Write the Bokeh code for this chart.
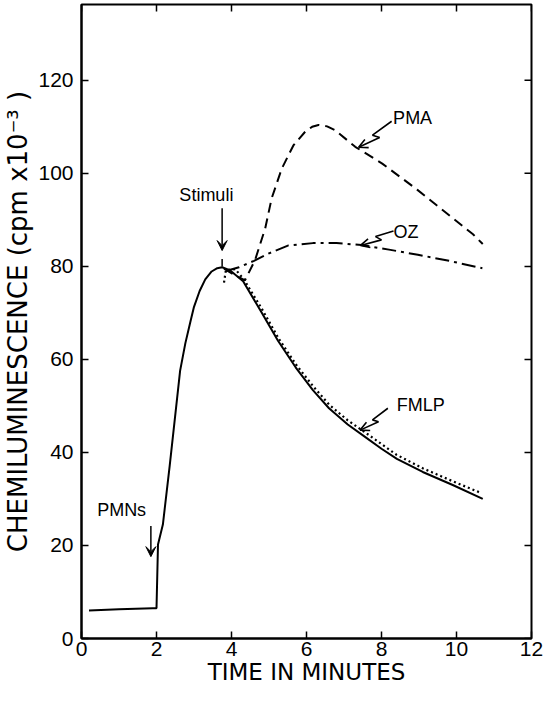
from bokeh.plotting import figure
from bokeh.models import Range1d, Label, Arrow, VeeHead, OpenHead, FixedTicker
from bokeh.embed import file_html
from bokeh.resources import INLINE

# ---- data (time in minutes, chemiluminescence cpm x 10^-3) ----
base_t = [0.2, 1.0, 1.9, 2.0, 2.04, 2.17, 2.35, 2.5, 2.63, 2.77, 2.91, 3.0, 3.15, 3.3, 3.47, 3.62, 3.75,
          3.95, 4.31, 4.78, 5.24, 5.71, 6.17, 6.6, 7.10, 7.57, 8.0, 8.41, 9.1, 9.90, 10.7]
base_y = [6.0, 6.3, 6.5, 6.5, 20.2, 24.5, 37.0, 48.0, 57.6, 63.5, 68.3, 71.3, 74.7, 77.2, 78.9, 79.6, 79.8,
          79.2, 76.8, 70.4, 64.0, 58.3, 53.4, 49.5, 46.0, 43.3, 40.8, 38.6, 35.8, 33.0, 30.0]

fmlp_t = [3.8, 3.85, 4.1, 4.33, 4.8, 5.25, 5.72, 6.2, 6.6, 7.1, 7.6, 8.4, 9.1, 9.9, 10.65]
fmlp_y = [76.5, 79.2, 79.4, 77.2, 71.0, 64.6, 58.9, 54.0, 50.3, 46.9, 44.1, 39.5, 36.6, 33.8, 31.3]

pma_t = [3.8, 4.05, 4.36, 4.63, 4.9, 5.07, 5.34, 5.65, 5.97, 6.15, 6.32, 6.55, 6.76, 7.3, 8.02, 8.95, 10.44, 10.7]
pma_y = [79.5, 78.3, 77.0, 81.4, 88.2, 94.6, 101.0, 106.0, 109.0, 110.0, 110.4, 110.1, 109.3, 105.7, 102.1, 96.5, 86.9, 84.8]

oz_t = [3.85, 4.2, 4.6, 5.0, 5.52, 6.17, 6.8, 7.47, 8.2, 8.97, 9.8, 10.69]
oz_y = [79.0, 79.8, 81.2, 82.8, 84.5, 85.0, 85.0, 84.6, 83.6, 82.5, 81.2, 79.6]

x_ticks = [0, 2, 4, 6, 8, 10, 12]
y_ticks = [0, 20, 40, 60, 80, 100, 120]

# annotation texts and anchor points
labels = ["Stimuli", "PMNs", "PMA", "OZ", "FMLP"]
label_x = [3.33, 1.07, 8.83, 8.65, 9.05]
label_y = [95.3, 27.7, 111.9, 87.3, 50.2]

# straight arrows (Stimuli, PMNs): start -> end
arrow_x0 = [3.75, 1.85]
arrow_y0 = [92.5, 24.2]
arrow_x1 = [3.75, 1.85]
arrow_y1 = [83.4, 17.6]

# zig-zag pointers (PMA, OZ, FMLP): start, kink A, kink B, tip
zig_x = [[8.27, 7.76, 7.95, 7.39], [8.32, 7.84, 8.0, 7.44], [8.17, 7.76, 7.92, 7.43]]
zig_y = [[111.2, 108.2, 107.7, 105.6], [87.6, 86.4, 85.7, 84.5], [49.5, 47.0, 46.6, 44.8]]

stub_x = [3.75, 3.75]
stub_y = [80.0, 81.6]

X_MAX, Y_MAX = 12, 136.3
FW, FH = 450, 634
TICK_PX = 7

p = figure(frame_width=FW, frame_height=FH, x_range=Range1d(0, X_MAX), y_range=Range1d(0, Y_MAX),
           output_backend="svg", toolbar_location=None,
           min_border_left=75, min_border_right=14, min_border_top=4, min_border_bottom=0)
p.grid.visible = False
p.outline_line_color = "black"
p.outline_line_width = 2
p.background_fill_color = "white"
p.border_fill_color = "white"

for ax, ticks in ((p.xaxis[0], x_ticks), (p.yaxis[0], y_ticks)):
    ax.ticker = FixedTicker(ticks=ticks)
    ax.major_tick_in = TICK_PX
    ax.major_tick_out = 0
    ax.minor_tick_in = 0
    ax.minor_tick_out = 0
    ax.axis_line_width = 2
    ax.axis_line_color = "black"
    ax.major_tick_line_width = 1.5
    ax.major_tick_line_color = "black"
    ax.major_label_text_font = "Liberation Sans"
    ax.major_label_text_font_size = "21px"
    ax.major_label_text_color = "black"
    ax.axis_label_text_font = "DejaVu Sans"
    ax.axis_label_text_font_style = "normal"
    ax.axis_label_text_color = "black"

p.xaxis[0].major_label_standoff = 3
p.xaxis[0].axis_label = "TIME IN MINUTES"
p.xaxis[0].axis_label_text_font_size = "23px"
p.xaxis[0].axis_label_standoff = 0
p.yaxis[0].major_label_standoff = 8
p.yaxis[0].axis_label = "CHEMILUMINESCENCE (cpm x10⁻³ )"
p.yaxis[0].axis_label_text_font_size = "26px"
p.yaxis[0].axis_label_standoff = 2

# inward ticks on the top and right edges of the frame
dy = TICK_PX * Y_MAX / FH
dx = TICK_PX * X_MAX / FW
p.segment(x0=x_ticks, y0=[Y_MAX] * len(x_ticks), x1=x_ticks, y1=[Y_MAX - dy] * len(x_ticks),
          line_color="black", line_width=1.5)
p.segment(x0=[X_MAX] * len(y_ticks), y0=y_ticks, x1=[X_MAX - dx] * len(y_ticks), y1=y_ticks,
          line_color="black", line_width=1.5)

# curves
p.line(base_t, base_y, line_color="black", line_width=2)
p.line(fmlp_t, fmlp_y, line_color="black", line_width=2.2, line_dash="2 3")
p.line(pma_t, pma_y, line_color="black", line_width=2, line_dash="10 6")
p.line(oz_t, oz_y, line_color="black", line_width=2, line_dash="14 5 3 5")
p.line(stub_x, stub_y, line_color="black", line_width=1.5)

# straight arrows
for i in range(len(arrow_x0)):
    p.add_layout(Arrow(end=VeeHead(size=10, fill_color="black", line_color="black", line_width=1),
                       x_start=arrow_x0[i], y_start=arrow_y0[i],
                       x_end=arrow_x1[i], y_end=arrow_y1[i],
                       line_color="black", line_width=1.5))

# zig-zag pointers
for zx, zy in zip(zig_x, zig_y):
    p.line(zx[:3], zy[:3], line_color="black", line_width=1.6)
    p.add_layout(Arrow(end=OpenHead(size=9, line_color="black", line_width=1.6),
                       x_start=zx[2], y_start=zy[2], x_end=zx[3], y_end=zy[3],
                       line_color="black", line_width=1.6))

for t, lx, ly in zip(labels, label_x, label_y):
    p.add_layout(Label(x=lx, y=ly, text=t, text_align="center", text_baseline="middle",
                       text_font="Liberation Sans", text_font_size="18px", text_color="black"))

open("out.html", "w").write(file_html(p, INLINE))
